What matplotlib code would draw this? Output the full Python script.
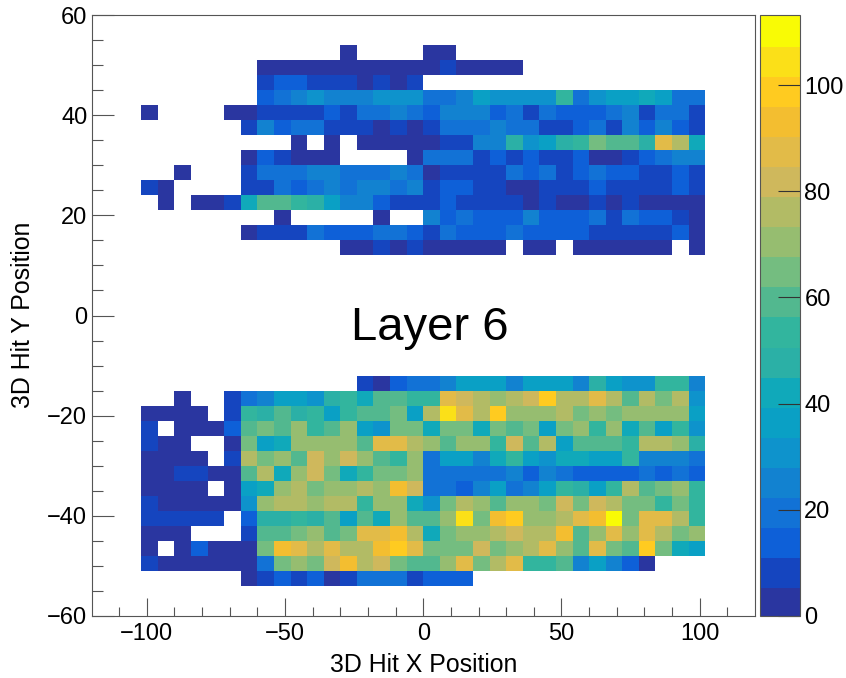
import numpy as np
import matplotlib
matplotlib.use("Agg")
import matplotlib.pyplot as plt
from matplotlib.colors import ListedColormap, Normalize

plt.rcParams['font.family'] = ['Liberation Sans', 'DejaVu Sans']

# hits per bin, 0 = empty bin. rows go from top to bottom, columns from x=-102
upper = [
[0,0,0,0,0,0,0,0,0,0,0,0,3,0,0,0,0,3,3,0,0,0,0,0,0,0,0,0,0,0,0,0,0,0],
[0,0,0,0,0,0,0,3,3,3,3,3,3,3,3,3,3,3,8,3,3,3,3,0,0,0,0,0,0,0,0,0,0,0],
[0,0,0,0,0,0,0,8,14,14,8,8,8,3,8,3,8,0,0,0,0,0,0,0,0,0,0,0,0,0,0,0,0,0],
[0,0,0,0,0,0,0,14,20,25,31,25,25,25,31,31,31,20,20,25,37,31,31,31,31,54,20,31,37,37,42,37,20,20],
[3,0,0,0,0,3,3,8,8,8,8,14,8,20,20,25,20,14,25,25,25,14,20,8,20,14,14,14,20,25,8,20,20,8],
[0,0,0,0,0,0,8,25,14,20,20,8,8,8,3,8,3,8,20,20,20,25,20,20,8,8,14,20,8,25,14,25,14,8],
[0,0,0,0,0,0,0,0,0,3,0,3,0,3,3,3,3,3,8,8,25,25,48,31,37,48,54,65,59,59,48,88,76,42],
[0,0,0,0,0,0,3,14,8,3,3,3,0,0,0,0,3,20,20,20,8,14,8,14,8,8,14,3,3,8,14,20,25,25],
[0,0,3,0,0,0,8,20,20,20,25,25,20,20,20,25,20,3,8,8,8,8,20,14,20,8,14,20,14,14,8,8,14,8],
[8,3,0,0,0,0,8,8,20,14,20,25,20,25,25,20,25,8,14,14,8,8,3,3,8,8,8,14,8,8,8,8,14,8],
[0,3,0,3,3,8,42,59,59,54,48,37,25,25,14,8,8,8,14,8,8,8,8,3,8,3,3,8,3,8,3,3,3,3],
[0,0,0,0,0,0,0,0,3,0,0,0,0,0,3,0,0,25,14,20,14,14,14,25,14,14,14,20,8,20,14,14,8,3],
[0,0,0,0,0,0,3,8,8,8,20,14,14,14,20,20,14,8,20,14,14,14,20,14,14,14,14,8,8,8,8,8,14,3],
[0,0,0,0,0,0,0,0,0,0,0,0,3,3,8,3,8,3,3,3,3,3,0,3,3,0,3,3,3,3,3,3,0,3],
]
lower = [
[0,0,0,0,0,0,0,0,0,0,0,0,0,8,3,14,20,20,25,37,37,37,25,37,37,37,25,48,37,31,31,54,54,25],
[0,0,3,0,0,8,20,25,37,37,31,48,54,42,59,59,54,54,88,82,76,71,76,82,99,76,76,88,76,59,76,65,76,31],
[3,3,3,3,0,8,54,48,59,48,54,37,54,59,59,65,37,76,105,88,76,99,71,71,71,76,65,71,65,71,71,71,71,37],
[8,0,3,3,3,14,59,65,59,71,54,59,71,37,31,65,65,42,65,65,42,65,59,65,37,65,71,54,71,42,59,37,54,31],
[8,3,3,0,0,3,65,37,42,71,71,71,71,59,88,88,76,71,59,71,71,54,82,59,76,37,59,59,59,54,76,76,71,48],
[3,3,3,3,0,8,76,65,71,59,82,71,82,71,59,54,71,20,37,37,25,42,54,37,31,42,42,37,37,54,25,25,25,20],
[3,3,8,8,3,3,59,76,42,71,82,65,42,54,65,65,71,20,20,20,20,20,25,14,25,20,14,14,14,14,20,14,20,14],
[3,3,3,3,0,3,37,42,71,76,65,71,71,76,71,93,82,20,20,14,25,37,20,25,37,54,48,37,54,76,59,65,71,54],
[8,3,3,3,3,3,31,71,76,76,71,76,76,54,71,71,42,31,65,76,71,59,71,71,65,82,65,82,76,65,65,54,65,54],
[8,8,8,8,8,0,14,48,48,54,48,59,37,59,42,71,59,59,71,105,65,93,99,71,71,76,88,93,110,65,88,88,76,54],
[3,3,3,0,0,0,8,59,59,65,71,59,65,88,88,93,76,42,65,71,71,76,82,76,76,93,59,71,88,71,88,76,65,71],
[3,0,3,14,3,3,3,65,93,88,76,88,76,76,93,99,88,65,65,65,82,65,71,76,88,71,59,88,65,59,99,65,42,37],
[8,3,3,3,3,3,3,20,65,71,65,82,93,76,82,65,59,59,71,88,65,76,88,54,54,59,25,37,25,14,3,0,0,0],
[0,0,0,0,0,0,3,8,14,8,14,3,8,20,20,20,8,14,14,14,0,0,0,0,0,0,0,0,0,0,0,0,0,0],
]
x_edges = np.arange(-102, 103, 6)
y_edges = np.arange(54, -55, -3)
z_max = 113.2

# root bird palette, one colour per contour level
bird = ['#2a36a0','#1545bf','#0e60d8','#1272d6','#1282d0','#0e93cc','#0aa0c5','#10a9ba',
        '#2bb0a6','#32b59e','#52b88f','#74bd80','#96bd70','#b2bb65','#cfb85c','#e2bb48',
        '#f3be30','#ffcb20','#fbe018','#f9fb05']
cmap = ListedColormap(bird)
norm = Normalize(0, z_max)
line_col = '#555555'
tick_size = 17
title_size = 17.9

gap = np.zeros((8, 34))
z = np.vstack([np.array(upper), gap, np.array(lower)]).astype(float)
z = np.ma.masked_equal(z, 0)

fig = plt.figure(figsize=(8.46, 6.78), dpi=100)
w, h = 846, 678
ax = fig.add_axes([91.5/w, (h-616)/h, (755-91.5)/w, (616-15)/h])
cax = fig.add_axes([759.5/w, (h-616)/h, 40/w, (616-15)/h])

im = ax.pcolormesh(x_edges, y_edges, z, cmap=cmap, norm=norm, linewidth=0, rasterized=True)
ax.set_xlim(-120, 120)
ax.set_ylim(-60, 60)

ax.set_xticks([-100, -50, 0, 50, 100])
ax.set_xticks(np.arange(-110, 120, 10), minor=True)
ax.set_yticks(np.arange(-60, 61, 20))
ax.set_yticks(np.arange(-55, 60, 5), minor=True)
ax.tick_params(axis='x', which='major', direction='in', length=13, width=0.8, color=line_col, labelsize=tick_size, pad=5)
ax.tick_params(axis='x', which='minor', direction='in', length=6.5, width=0.8, color=line_col)
ax.tick_params(axis='y', which='major', direction='in', length=15.6, width=0.8, color=line_col, labelsize=tick_size, pad=3)
ax.tick_params(axis='y', which='minor', direction='in', length=8, width=0.8, color=line_col)
for s in ax.spines.values():
    s.set_color(line_col)
    s.set_linewidth(0.8)

fig.text(423.5/w, (h-672.5)/h, '3D Hit X Position', fontsize=title_size, ha='center', va='baseline')
fig.text(23.5/w, (h-315)/h, '3D Hit Y Position', fontsize=title_size, rotation=90, ha='center', va='center')
fig.text(429.5/w, (h-340)/h, 'Layer 6', fontsize=34, ha='center', va='baseline')

cb = fig.colorbar(im, cax=cax)
cb.set_ticks(np.arange(0, 101, 20))
cb.ax.tick_params(direction='in', length=16, width=0.8, color='#333333', labelsize=tick_size, pad=3.5)
cb.outline.set_edgecolor(line_col)
cb.outline.set_linewidth(0.8)
cb.solids.set_edgecolor('face')

fig.savefig('out.png', dpi=100)
